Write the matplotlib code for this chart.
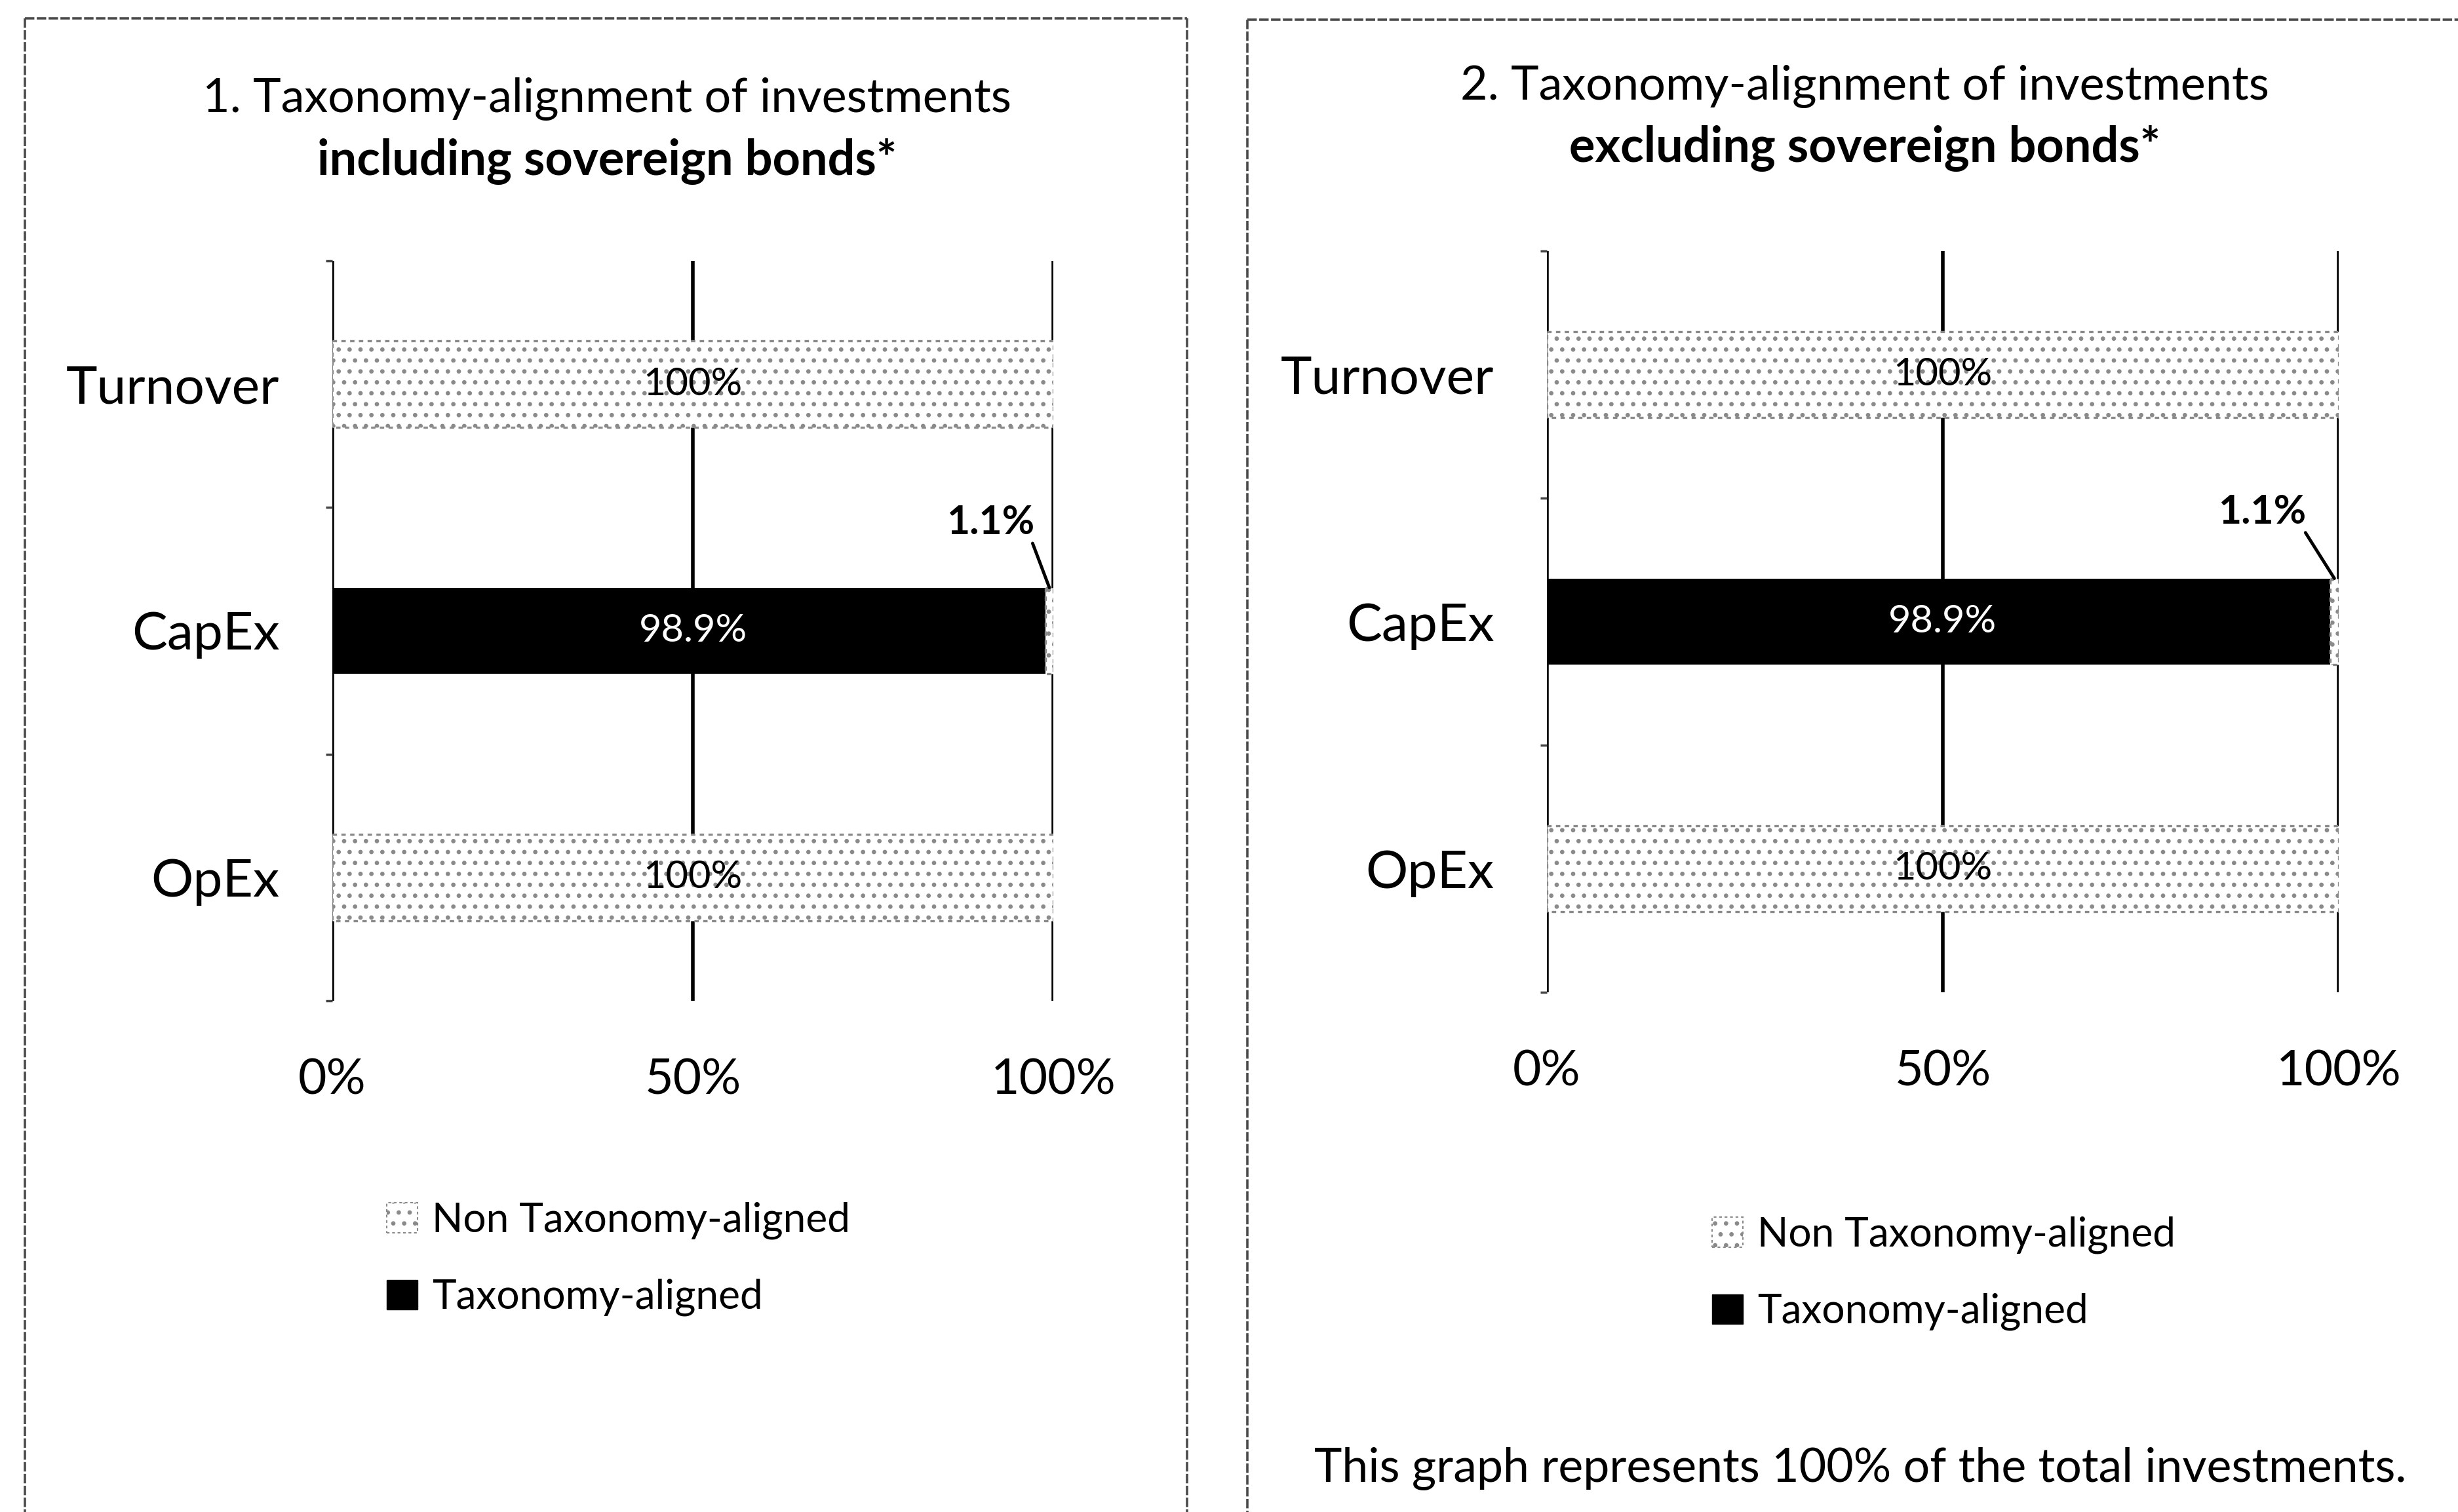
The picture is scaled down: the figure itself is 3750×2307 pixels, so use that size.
import matplotlib
matplotlib.use('Agg')
import matplotlib.pyplot as plt
from matplotlib.patches import Patch
from matplotlib.lines import Line2D

W, H = 3750, 2307
DPI = 100

# ---------------- data ----------------
categories = ['Turnover', 'CapEx', 'OpEx']
aligned_incl = [0.0, 98.9, 0.0]
non_aligned_incl = [100.0, 1.1, 100.0]
aligned_excl = [0.0, 98.9, 0.0]
non_aligned_excl = [100.0, 1.1, 100.0]
x_ticks = [0, 50, 100]
x_tick_labels = ['0%', '50%', '100%']
title_lines_1 = ['1. Taxonomy-alignment of investments', 'including sovereign bonds*']
title_lines_2 = ['2. Taxonomy-alignment of investments', 'excluding sovereign bonds*']
legend_labels = ['Non Taxonomy-aligned', 'Taxonomy-aligned']
note_text = 'This graph represents 100% of the total investments.'

FONT = 'Lato'
plt.rcParams['font.family'] = [FONT, 'DejaVu Sans']
plt.rcParams['hatch.linewidth'] = 2.4

fig = plt.figure(figsize=(W / DPI, H / DPI), dpi=DPI)
fig.patch.set_facecolor('white')
renderer = fig.canvas.get_renderer()


def fit_size(s, target_px, weight='normal'):
    t = fig.text(0, 0, s, fontsize=40, fontweight=weight)
    w = t.get_window_extent(renderer=renderer).width
    t.remove()
    return 40.0 * target_px / w


def fx(x):
    return x / W


def fy(y):
    return 1 - y / H


fs_title = fit_size(title_lines_1[0], 1232)
fs_title_b = fit_size(title_lines_1[1], 885, 'bold')
fs_cat = fit_size('Turnover', 325)
fs_tick = fit_size('100%', 191)
fs_bar = fit_size('100%', 151)
fs_small = fit_size('1.1%', 134, 'bold')
fs_leg = fit_size(legend_labels[0], 637)
fs_note = fit_size(note_text, 1667)

HATCH_COL = '#8a8a8a'

panels = [
    dict(rect=(507, 398, 1607, 1527), aligned=aligned_incl, non=non_aligned_incl,
         titles=title_lines_1, title_x=926, title_y=(151, 246),
         ann_text=(91.3, 0.56), legend_xy=(590, 1921)),
    dict(rect=(2360, 383, 3568, 1514), aligned=aligned_excl, non=non_aligned_excl,
         titles=title_lines_2, title_x=2845, title_y=(132, 227),
         ann_text=(90.3, 0.555), legend_xy=(2612, 1943)),
]

bar_h = 0.35
ypos = list(range(len(categories)))

for p in panels:
    x0, y0, x1, y1 = p['rect']
    ax = fig.add_axes([fx(x0), fy(y1), (x1 - x0) / W, (y1 - y0) / H])
    ax.set_xlim(0, 100)
    ax.set_ylim(len(categories) - 0.5, -0.5)
    for s in ax.spines.values():
        s.set_visible(False)
    ax.set_axisbelow(True)
    ax.set_xticks(x_ticks)
    ax.set_xticklabels(x_tick_labels, fontsize=fs_tick)
    ax.tick_params(axis='x', length=0, pad=62)
    ax.xaxis.grid(True, color='black', linewidth=4.0)
    ax.set_yticks(ypos)
    ax.set_yticklabels(categories, fontsize=fs_cat)
    ax.tick_params(axis='y', which='major', length=0, pad=58)
    ax.set_yticks([-0.5, 0.5, 1.5, 2.5], minor=True)
    ax.tick_params(axis='y', which='minor', length=7, width=2.5, color='#444444')

    al = p['aligned']
    na = p['non']
    ax.barh(ypos, al, height=bar_h, color='black', linewidth=0)
    ax.barh(ypos, na, left=al, height=bar_h, facecolor='white',
            edgecolor=HATCH_COL, hatch='.', linewidth=2.4, linestyle=(0, (2, 2)))

    for i in ypos:
        if al[i] > 0:
            ax.text(50, i, f'{al[i]:g}%', color='white', fontsize=fs_bar,
                    ha='center', va='center')
        if na[i] >= 50:
            ax.text(al[i] + na[i] / 2, i, f'{na[i]:g}%', color='black', fontsize=fs_bar,
                    ha='center', va='center')
        elif na[i] > 0:
            ax.annotate(f'{na[i]:g}%', xy=(al[i] + na[i] / 2, i - bar_h / 2),
                        xytext=p['ann_text'], textcoords='data',
                        fontsize=fs_small, fontweight='bold', ha='center', va='center',
                        arrowprops=dict(arrowstyle='-', color='black', lw=3.5,
                                        relpos=(0.95, 0.1), shrinkA=1, shrinkB=0))

    # titles
    fig.text(fx(p['title_x']), fy(p['title_y'][0]), p['titles'][0], fontsize=fs_title,
             ha='center', va='center')
    fig.text(fx(p['title_x']), fy(p['title_y'][1]), p['titles'][1], fontsize=fs_title_b,
             fontweight='bold', ha='center', va='center')

    # legend
    fs_px = fs_leg * DPI / 72
    handles = [Patch(facecolor='white', edgecolor=HATCH_COL, hatch='.', linewidth=1.5,
                     linestyle=(0, (2, 2))),
               Patch(facecolor='black', edgecolor='black')]
    lx, ly = p['legend_xy']
    fig.legend(handles, legend_labels, loc='center left',
               bbox_to_anchor=(fx(lx), fy(ly)), bbox_transform=fig.transFigure,
               frameon=False, fontsize=fs_leg, borderpad=0, borderaxespad=0,
               handlelength=47 / fs_px, handleheight=46 / fs_px,
               handletextpad=22 / fs_px, labelspacing=(131 - 1.15 * fs_px) / fs_px)

# note under right panel
fig.text(fx(2838), fy(2241), note_text, fontsize=fs_note, ha='center', va='center')

# scanned panel frames
frame_kw = dict(transform=fig.transFigure, color='#4a4a4a', lw=2.6, linestyle=(0, (4, 1)))
fig.add_artist(Line2D([fx(38), fx(38)], [fy(28), 0], **frame_kw))
fig.add_artist(Line2D([fx(1811), fx(1811)], [fy(28), 0], **frame_kw))
fig.add_artist(Line2D([fx(38), fx(1811)], [fy(28), fy(28)], **frame_kw))
fig.add_artist(Line2D([fx(1903), fx(1903)], [fy(30), 0], **frame_kw))
fig.add_artist(Line2D([fx(1903), 1], [fy(30), fy(30)], **frame_kw))

fig.savefig('out.png', dpi=DPI, facecolor='white')
